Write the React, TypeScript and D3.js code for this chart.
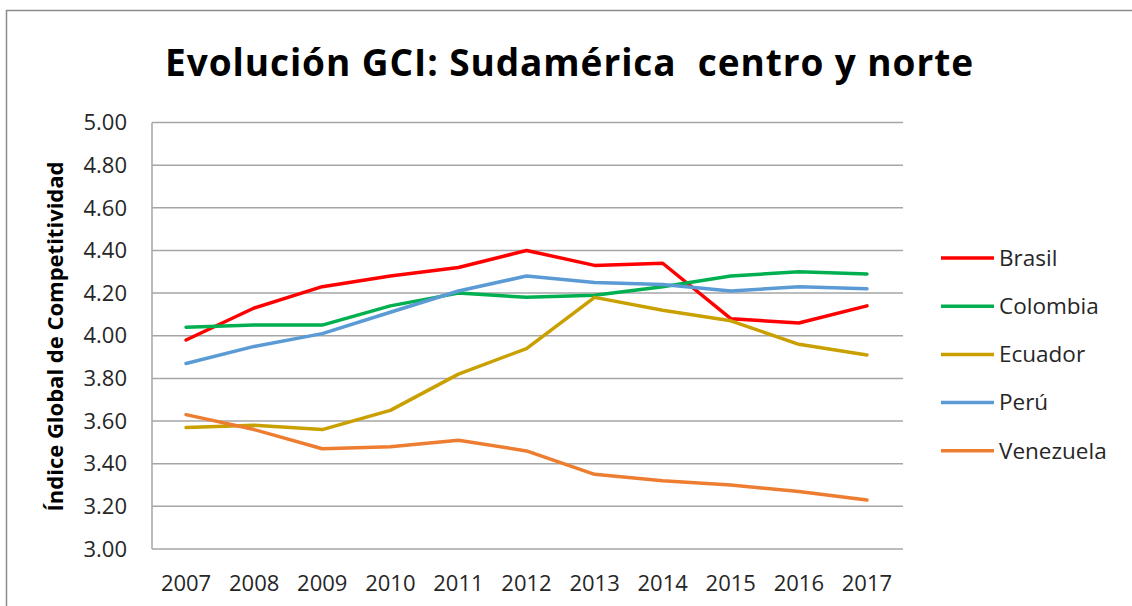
import React from 'react';
import * as d3 from 'd3';

const years = ['2007', '2008', '2009', '2010', '2011', '2012', '2013', '2014', '2015', '2016', '2017'];
const brasil = [3.98, 4.13, 4.23, 4.28, 4.32, 4.40, 4.33, 4.34, 4.08, 4.06, 4.14];
const colombia = [4.04, 4.05, 4.05, 4.14, 4.20, 4.18, 4.19, 4.23, 4.28, 4.30, 4.29];
const ecuador = [3.57, 3.58, 3.56, 3.65, 3.82, 3.94, 4.18, 4.12, 4.07, 3.96, 3.91];
const peru = [3.87, 3.95, 4.01, 4.11, 4.21, 4.28, 4.25, 4.24, 4.21, 4.23, 4.22];
const venezuela = [3.63, 3.56, 3.47, 3.48, 3.51, 3.46, 3.35, 3.32, 3.30, 3.27, 3.23];
const yTicks = [3.0, 3.2, 3.4, 3.6, 3.8, 4.0, 4.2, 4.4, 4.6, 4.8, 5.0];

const series = [
  { name: 'Brasil', values: brasil, color: '#FF0000' },
  { name: 'Colombia', values: colombia, color: '#00B050' },
  { name: 'Ecuador', values: ecuador, color: '#C9A000' },
  { name: 'Perú', values: peru, color: '#5B9BD5' },
  { name: 'Venezuela', values: venezuela, color: '#ED7D31' },
];

const W = 1132, H = 606;
const plot = { left: 152, right: 901, top: 122.5, bottom: 549 };
const font = '"Open Sans", Lato, sans-serif';

export default function App() {
  const x = d3.scaleBand().domain(years).range([plot.left, plot.right]).padding(0);
  const cx = (yr: string) => (x(yr) as number) + x.bandwidth() / 2;
  const y = d3.scaleLinear().domain([3, 5]).range([plot.bottom, plot.top]);
  const line = d3.line<number>().x((_, i) => cx(years[i])).y(d => y(d));

  return (
    <svg width={W} height={H} style={{ position: 'absolute', left: 0, top: 0, background: '#fff' }} fontFamily={font}>
      <rect x={6.5} y={10.5} width={W + 20} height={H + 20} fill="#fff" stroke="#8c8c8c" strokeWidth={1.5} />

      <text x={569} y={76} textAnchor="middle" fontSize={37} fontWeight={700} fill="#000"
        textLength={808} lengthAdjust="spacing">
        Evolución GCI: Sudamérica{'\u00a0'} centro y norte
      </text>

      {/* gridlines */}
      {yTicks.map(t => (
        <line key={t} x1={plot.left} x2={plot.right + 2} y1={y(t)} y2={y(t)} stroke="#a6a6a6" strokeWidth={1.5} />
      ))}
      <line x1={plot.left} x2={plot.left} y1={plot.top} y2={plot.bottom} stroke="#a6a6a6" strokeWidth={1.5} />

      {yTicks.map(t => (
        <text key={'l' + t} x={127} y={y(t)} dy="0.35em" textAnchor="end" fontSize={22} fill="#262626">
          {t.toFixed(2)}
        </text>
      ))}
      {years.map(yr => (
        <text key={yr} x={cx(yr)} y={583} dy="0.35em" textAnchor="middle" fontSize={22} fill="#262626">
          {yr}
        </text>
      ))}

      <text transform={`translate(63,${336.5}) rotate(-90)`} textAnchor="middle" fontSize={22} fontWeight={700} fill="#000">
        Índice Global de Competitividad
      </text>

      {series.map(s => (
        <path key={s.name} d={line(s.values) || ''} fill="none" stroke={s.color} strokeWidth={3.5} strokeLinejoin="round" strokeLinecap="round" />
      ))}

      {series.map((s, i) => (
        <g key={'lg' + s.name} transform={`translate(0,${258 + i * 48.2})`}>
          <line x1={941} x2={994} y1={0} y2={0} stroke={s.color} strokeWidth={3.5} />
          <text x={999} y={0} dy="0.35em" fontSize={22.5} fill="#262626">{s.name}</text>
        </g>
      ))}
    </svg>
  );
}
